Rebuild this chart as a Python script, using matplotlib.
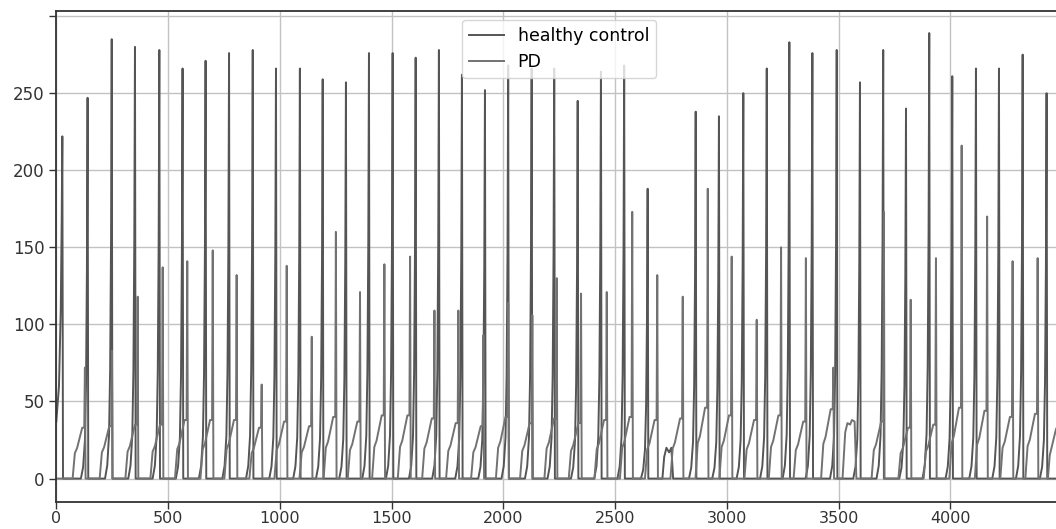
import matplotlib
matplotlib.use("Agg")
import matplotlib.pyplot as plt
import numpy as np

# ---- data ----
# healthy control: spike positions (sample index) and peak heights
hc_peak_x = [27, 140, 248, 352, 461, 565, 668, 773, 879, 983, 1090, 1192, 1296, 1399,
             1505, 1608, 1712, 1815, 1918, 2022, 2127, 2228, 2333, 2437, 2541, 2646,
             2861, 2965, 3074, 3179, 3280, 3383, 3492, 3596, 3700, 3802, 3906, 4009,
             4115, 4218, 4324, 4431]
hc_peak_y = [222, 247, 285, 280, 278, 266, 271, 276, 278, 266, 266, 259, 257, 276,
             276, 273, 278, 262, 252, 268, 266, 266, 245, 264, 268, 188,
             238, 235, 250, 266, 283, 276, 278, 257, 278, 240, 289, 261,
             266, 266, 275, 250]
# typical rise of a healthy-control spike (offset from peak, fraction of peak)
hc_rise_dx = [-30, -20, -12, -7, -3, 0, 3]
hc_rise_frac = [0.0, 0.03, 0.10, 0.25, 0.55, 1.0, 0.0]
# start of the record (signal already rising at sample 0)
hc_lead_x = [0, 12, 20, 24]
hc_lead_y = [37, 60, 110, 165]
# low bump where one healthy-control spike is missing
hc_bump_x = [2712, 2720, 2730, 2742, 2752, 2760]
hc_bump_y = [0, 14, 20, 17, 20, 0]

# PD: spike positions, peak heights and level of the ramp before each spike
pd_peak_x = [128, 249, 364, 476, 586, 700, 807, 919, 1031, 1143, 1251, 1359, 1468,
             1583, 1692, 1799, 1911, 2022, 2130, 2239, 2348, 2463, 2577, 2689, 2803,
             2915, 3022, 3134, 3243, 3354, 3477, 3703, 3823, 3936, 4051, 4165, 4279,
             4391]
pd_peak_y = [72, 83, 118, 137, 141, 148, 132, 61, 138, 92, 160, 121, 139,
             144, 109, 109, 93, 114, 106, 130, 120, 121, 173, 132, 118,
             188, 144, 103, 150, 143, 72, 173, 116, 143, 216, 170, 141,
             143]
pd_ramp_top = [33, 34, 35, 35, 38, 38, 38, 33, 37, 34, 40, 37, 41,
               41, 39, 36, 34, 40, 36, 39, 36, 38, 40, 38, 39,
               46, 41, 38, 41, 37, 45, 37, 33, 35, 46, 44, 40,
               42]
# typical ramp shape before a PD spike (offset from peak)
pd_ramp_dx = [-55, -45, -35, -12, -3, 0, 3]
# ramp without spike and the ramp running off the right edge
pd_extra_x = [3518, 3530, 3540, 3552, 3560, 3572, 3580, 4437, 4445, 4473, 4500]
pd_extra_y = [0, 30, 36, 35, 38, 37, 0, 0, 15, 32, 40]

x_ticks = [0, 500, 1000, 1500, 2000, 2500, 3000, 3500, 4000]
y_ticks = [0, 50, 100, 150, 200, 250, 300]
y_tick_labels = ["0", "50", "100", "150", "200", "250", ""]

# ---- build polylines from the read values ----
hc_pts = [(x, y) for x, y in zip(hc_lead_x, hc_lead_y)]
for i, (p, h) in enumerate(zip(hc_peak_x, hc_peak_y)):
    for dx, f in zip(hc_rise_dx, hc_rise_frac):
        if i == 0 and dx < 0:
            continue
        hc_pts.append((p + dx, f * h))
hc_pts += list(zip(hc_bump_x, hc_bump_y))
hc_pts.append((4500, 0))
hc_pts.sort(key=lambda t: t[0])
hc_x, hc_y = zip(*hc_pts)

pd_pts = [(0, 0)]
for p, h, top in zip(pd_peak_x, pd_peak_y, pd_ramp_top):
    ys = [0, 0.5 * top, 0.6 * top, top, top, h, 0]
    for dx, yv in zip(pd_ramp_dx, ys):
        pd_pts.append((p + dx, yv))
pd_pts += list(zip(pd_extra_x, pd_extra_y))
pd_pts.sort(key=lambda t: t[0])
pd_x, pd_y = zip(*pd_pts)

# ---- draw ----
fig = plt.figure(figsize=(10.56, 5.29), dpi=100)
ax = fig.add_axes([56.3 / 1056, 27.3 / 529, (1062 - 56.3) / 1056, (518 - 27.3) / 529])

ax.plot(hc_x, hc_y, color="#555555", lw=1.4, label="healthy control")
ax.plot(pd_x, pd_y, color="#727272", lw=1.4, label="PD")

ax.set_xlim(0, 4500)
ax.set_ylim(-15, 303.3)
ax.set_xticks(x_ticks)
ax.set_yticks(y_ticks)
ax.set_yticklabels(y_tick_labels)
ax.tick_params(labelsize=12, length=5, width=1.0, colors="#333333")
ax.tick_params(axis="x", labelsize=11.5, pad=1.5)
ax.grid(True, color="#c2c2c2", lw=1.0)
for s in ax.spines.values():
    s.set_linewidth(1.3)
    s.set_color("#333333")

leg = ax.legend(loc="upper center", fontsize=12.5, framealpha=0.8,
                handlelength=2.0, borderaxespad=0.5)

fig.savefig("out.png", dpi=100)
